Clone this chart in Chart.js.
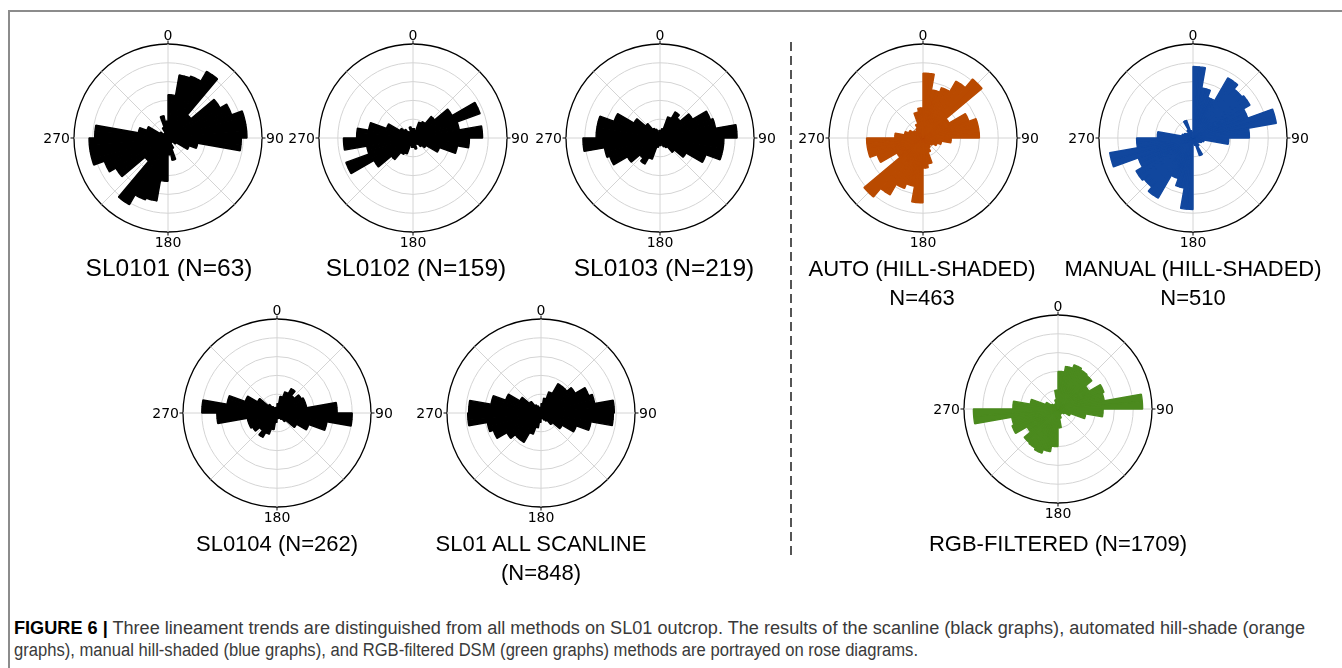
<!DOCTYPE html>
<html>
<head>
<meta charset="utf-8">
<script src="https://cdn.jsdelivr.net/npm/chart.js@4.4.1/dist/chart.umd.min.js"></script>
<style>
  html, body { margin: 0; padding: 0; background: #fff; }
  #page { position: relative; width: 1342px; height: 668px; overflow: hidden; font-family: "Liberation Sans", Arial, sans-serif; }
  .frame-top { position: absolute; left: 8px; top: 10px; width: 1340px; height: 2px; background: #8c8c8c; }
  .frame-left { position: absolute; left: 8px; top: 10px; width: 2px; height: 660px; background: #8c8c8c; }
  .sep { position: absolute; left: 790px; top: 42px; width: 2px; height: 514px;
         background: repeating-linear-gradient(to bottom, #555 0 9px, transparent 9px 14px); }
  .rose { position: absolute; width: 280px; height: 250px; }
  .title { position: absolute; font-size: 22px; line-height: 29px; color: #000; text-align: center;
           white-space: nowrap; transform: translateX(-50%); }
  .title.big { font-size: 24.5px; }
  .cap { position: absolute; left: 14px; font-family: "Liberation Sans Narrow", "Liberation Sans", Arial, sans-serif;
         font-size: 18px; color: #3a3a3a; white-space: nowrap; transform-origin: 0 0; line-height: 22px; }
  .cap b { color: #000; }
</style>
</head>
<body>
<div id="page">
  <div class="frame-top"></div>
  <div class="frame-left"></div>
  <div class="sep"></div>

  <canvas id="r1" class="rose" width="280" height="250" style="left:28px;top:13px"></canvas>
  <canvas id="r2" class="rose" width="280" height="250" style="left:273px;top:13px"></canvas>
  <canvas id="r3" class="rose" width="280" height="250" style="left:520px;top:13px"></canvas>
  <canvas id="r4" class="rose" width="280" height="250" style="left:783px;top:13px"></canvas>
  <canvas id="r5" class="rose" width="280" height="250" style="left:1053px;top:13px"></canvas>
  <canvas id="r6" class="rose" width="280" height="250" style="left:137px;top:288px"></canvas>
  <canvas id="r7" class="rose" width="280" height="250" style="left:401px;top:288px"></canvas>
  <canvas id="r8" class="rose" width="280" height="250" style="left:918px;top:284px"></canvas>

  <div class="title big" style="left:169px;top:253px">SL0101 (N=63)</div>
  <div class="title big" style="left:416px;top:253px">SL0102 (N=159)</div>
  <div class="title big" style="left:664px;top:253px">SL0103 (N=219)</div>
  <div class="title" style="left:922px;top:254px">AUTO (HILL-SHADED)<br>N=463</div>
  <div class="title" style="left:1193px;top:254px">MANUAL (HILL-SHADED)<br>N=510</div>
  <div class="title" style="left:277px;top:529px">SL0104 (N=262)</div>
  <div class="title" style="left:541px;top:529px">SL01 ALL SCANLINE<br>(N=848)</div>
  <div class="title" style="left:1058px;top:529px">RGB-FILTERED (N=1709)</div>

  <div id="cap1" class="cap" style="top:617px"><b>FIGURE 6 |</b> Three lineament trends are distinguished from all methods on SL01 outcrop. The results of the scanline (black graphs), automated hill-shade (orange</div>
  <div id="cap2" class="cap" style="top:639px">graphs), manual hill-shaded (blue graphs), and RGB-filtered DSM (green graphs) methods are portrayed on rose diagrams.</div>
</div>

<script>
// 10° strike bins, 0-180 (lineaments are axial, the rose repeats them at +180)
const strikeBins = [0, 10, 20, 30, 40, 50, 60, 70, 80, 90, 100, 110, 120, 130, 140, 150, 160, 170];

// bar lengths, in grid rings (outer circle = 5)
const sl0101 = [2.3, 3.4, 3.5, 4.1, 1.6, 3.2, 3.6, 4.2, 4.2, 3.9, 1.6, 1.2, 0.5, 0.3, 0.3, 0.6, 1.2, 0.9];
const sl0102 = [0.5, 0.4, 0.9, 1.0, 1.5, 2.4, 3.8, 2.5, 3.7, 3.0, 2.4, 1.5, 0.8, 0.6, 0.4, 0.3, 0.6, 0.5];
const sl0103 = [0.4, 0.5, 1.2, 1.6, 1.4, 2.0, 2.85, 3.0, 4.1, 3.4, 3.4, 2.6, 1.6, 1.0, 0.6, 0.5, 0.3, 0.4];
const autoHill = [3.45, 2.6, 2.85, 3.5, 4.1, 1.6, 2.6, 3.0, 3.0, 1.5, 1.0, 0.8, 0.6, 0.5, 0.6, 0.8, 1.4, 1.6];
const manualHill = [3.8, 2.7, 2.3, 3.7, 3.4, 3.5, 3.1, 4.5, 3.0, 1.9, 0.6, 0.5, 0.4, 0.3, 0.5, 1.0, 0.4, 0.3];
const sl0104 = [0.5, 0.9, 1.2, 1.5, 1.2, 1.5, 1.6, 1.6, 3.2, 4.0, 2.7, 1.8, 1.2, 0.6, 0.4, 0.3, 0.3, 0.3];
const sl01All = [0.5, 0.8, 1.2, 1.8, 1.8, 2.1, 2.7, 2.9, 3.9, 3.85, 2.7, 2.0, 1.3, 0.8, 0.5, 0.4, 0.3, 0.3];
const rgbFiltered = [2.0, 2.3, 2.5, 2.4, 2.35, 1.9, 2.6, 2.5, 4.5, 2.4, 1.5, 0.7, 0.4, 0.3, 0.3, 0.3, 0.5, 1.0];

const compassLabels = ['0', '90', '180', '270'];
const ringMax = 5;

// each 10° bin is drawn as two 5° sectors so the 45° spokes land on sector edges
const sectorLabels = [];
for (let a = 0; a < 360; a += 5) sectorLabels.push(String(a));

function roseData(values) {
    const full = values.concat(values);
    const out = [];
    full.forEach(v => { out.push(v, v); });
    return out;
}

const compassTicks = {
    id: 'compassTicks',
    afterDraw(chart) {
        const s = chart.scales.r;
        const ctx = chart.ctx;
        const n = chart.data.labels.length;
        const size = 14;
        ctx.save();
        ctx.strokeStyle = '#000';
        ctx.lineWidth = 1;
        ctx.fillStyle = '#000';
        ctx.font = size + 'px "DejaVu Sans"';
        ctx.textBaseline = 'alphabetic';
        compassLabels.forEach((txt, k) => {
            const i = k * n / 4;
            const a = s.getPointPosition(i, s.drawingArea);
            const b = s.getPointPosition(i, s.drawingArea + 3.5);
            ctx.beginPath();
            ctx.moveTo(a.x, a.y);
            ctx.lineTo(b.x, b.y);
            ctx.stroke();
            const p = s.getPointPosition(i, s.drawingArea + (k % 2 ? 4 : 4.5));
            let y = p.y;
            if (k === 0) { ctx.textAlign = 'center'; }
            if (k === 1) { ctx.textAlign = 'left'; y += 0.36 * size; }
            if (k === 2) { ctx.textAlign = 'center'; y += 0.73 * size; }
            if (k === 3) { ctx.textAlign = 'right'; y += 0.36 * size; }
            ctx.fillText(txt, p.x, y);
        });
        ctx.restore();
    }
};

function PaintRose(id, values, color) {
    const canvas = document.getElementById(id);
    return new Chart(canvas, {
        type: 'polarArea',
        data: {
            labels: sectorLabels,
            datasets: [{
                data: roseData(values),
                backgroundColor: color,
                borderColor: color,
                borderWidth: 1.4
            }]
        },
        options: {
            responsive: false,
            animation: false,
            // wide side padding leaves room for the 270 / 90 labels
            layout: { padding: { left: 46, right: 46, top: 31, bottom: 31 } },
            plugins: {
                legend: { display: false },
                tooltip: { enabled: false }
            },
            scales: {
                r: {
                    min: 0,
                    max: ringMax,
                    startAngle: 0,
                    ticks: { display: false, stepSize: 1 },
                    pointLabels: { display: false },
                    grid: {
                        circular: true,
                        color: c => c.tick.value === ringMax ? '#000' : '#d4d4d4',
                        lineWidth: c => c.tick.value === ringMax ? 1.3 : 1
                    },
                    angleLines: {
                        display: true,
                        color: '#d4d4d4',
                        lineWidth: c => c.index % 9 === 0 ? 1 : 0
                    }
                }
            }
        },
        plugins: [compassTicks]
    });
}

PaintRose('r1', sl0101, '#000000');
PaintRose('r2', sl0102, '#000000');
PaintRose('r3', sl0103, '#000000');
PaintRose('r4', autoHill, '#b94a00');
PaintRose('r5', manualHill, '#11479e');
PaintRose('r6', sl0104, '#000000');
PaintRose('r7', sl01All, '#000000');
PaintRose('r8', rgbFiltered, '#4b8a1e');

// caption: squeeze each printed line to the width it has in the figure
function fitLine(id, width) {
    const el = document.getElementById(id);
    const k = width / el.getBoundingClientRect().width;
    el.style.transform = 'scaleX(' + k + ')';
}
fitLine('cap1', 1291);
fitLine('cap2', 904);
</script>
</body>
</html>
